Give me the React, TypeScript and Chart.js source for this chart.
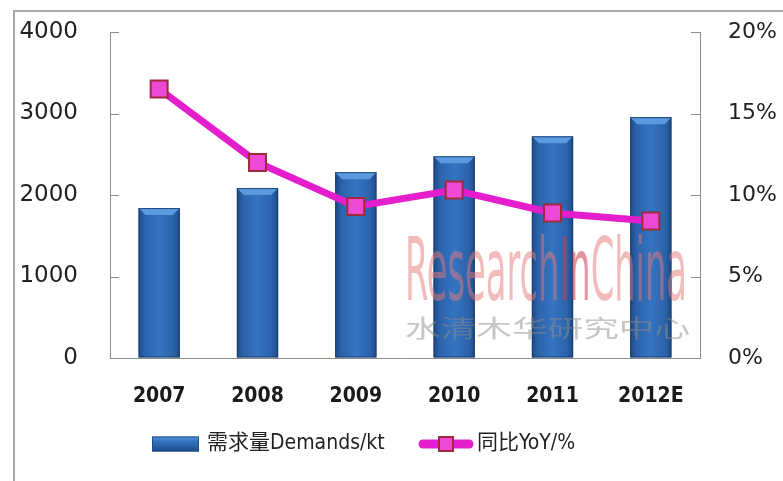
import React, { useEffect, useRef } from "react";
import { Chart, registerables } from "chart.js";

Chart.register(...registerables);

const categories = ["2007", "2008", "2009", "2010", "2011", "2012E"];
const demands = [1840, 2085, 2280, 2475, 2720, 2955];
const yoy = [16.5, 12.0, 9.3, 10.3, 8.9, 8.4];
const leftTicks = [0, 1000, 2000, 3000, 4000];
const rightTicks = [0, 5, 10, 15, 20];
const barLabel = "需求量Demands/kt";
const lineLabel = "同比YoY/%";
const watermark = ["Research", "In", "China"];
const watermarkCn = "水清木华研究中心";

const LINE_COLOR = "#E41ECC";
const NARROW = "'DejaVu Sans Condensed', 'Noto Sans CJK SC'";

const decorPlugin = {
  id: "decor",
  beforeDatasetsDraw(chart: any) {
    const ctx = chart.ctx;
    const yl = chart.scales.y;
    const yr = chart.scales.y1;
    ctx.save();
    ctx.strokeStyle = "#8c8c8c";
    ctx.lineWidth = 1;
    leftTicks.forEach((v) => {
      const py = Math.round(yl.getPixelForValue(v)) + 0.5;
      ctx.beginPath();
      ctx.moveTo(yl.right, py);
      ctx.lineTo(yl.right + 9, py);
      ctx.stroke();
    });
    rightTicks.forEach((v) => {
      const py = Math.round(yr.getPixelForValue(v)) + 0.5;
      ctx.beginPath();
      ctx.moveTo(yr.left, py);
      ctx.lineTo(yr.left - 9, py);
      ctx.stroke();
    });
    ctx.restore();
  },
  afterDatasetDraw(chart: any, args: any) {
    if (args.index !== 0) return;
    const ctx = chart.ctx;
    const meta = chart.getDatasetMeta(0);
    ctx.save();
    meta.data.forEach((bar: any) => {
      const w = bar.width;
      const x0 = bar.x - w / 2;
      const top = bar.y;
      const base = bar.base;
      const g = ctx.createLinearGradient(x0, 0, x0 + w, 0);
      g.addColorStop(0, "#1d4a85");
      g.addColorStop(0.15, "#2c62aa");
      g.addColorStop(0.5, "#3474c2");
      g.addColorStop(0.85, "#2c62aa");
      g.addColorStop(1, "#1d4a85");
      ctx.fillStyle = g;
      ctx.fillRect(x0, top, w, base - top);
      const bev = 7;
      ctx.beginPath();
      ctx.moveTo(x0, top);
      ctx.lineTo(x0 + w, top);
      ctx.lineTo(x0 + w - bev, top + bev);
      ctx.lineTo(x0 + bev, top + bev);
      ctx.closePath();
      ctx.fillStyle = "#5c9ae0";
      ctx.fill();
      ctx.strokeStyle = "rgba(20,55,100,0.8)";
      ctx.lineWidth = 1;
      ctx.strokeRect(x0 + 0.5, top + 0.5, w - 1, base - top - 1);
    });
    ctx.restore();
  },
  afterDatasetsDraw(chart: any) {
    const ctx = chart.ctx;
    ctx.save();
    const left = 405;
    const totalW = 282;
    ctx.font = "60px 'DejaVu Sans Condensed'";
    ctx.textBaseline = "alphabetic";
    const widths = watermark.map((s) => ctx.measureText(s).width);
    const sum = widths.reduce((a, b) => a + b, 0);
    const sx = totalW / sum;
    const g = ctx.createLinearGradient(0, 235, 0, 300);
    g.addColorStop(0, "rgba(228,120,120,0.5)");
    g.addColorStop(0.55, "rgba(228,120,120,0.5)");
    g.addColorStop(0.6, "rgba(150,150,150,0.45)");
    g.addColorStop(1, "rgba(150,150,150,0.45)");
    const g2 = "rgba(205,60,80,0.55)";
    let cx = left;
    watermark.forEach((s, i) => {
      ctx.save();
      ctx.translate(cx, 300);
      ctx.scale(sx, 1.45);
      ctx.fillStyle = i === 1 ? g2 : g;
      ctx.fillText(s, 0, 0);
      ctx.restore();
      cx += widths[i] * sx;
    });
    ctx.font = "24px 'Noto Sans CJK SC'";
    ctx.textBaseline = "middle";
    const cw = ctx.measureText(watermarkCn).width;
    ctx.save();
    ctx.translate(left, 328);
    ctx.scale(285 / cw, 1);
    ctx.fillStyle = "rgba(140,140,140,0.5)";
    ctx.fillText(watermarkCn, 0, 0);
    ctx.restore();
    ctx.restore();
  },
  afterDraw(chart: any) {
    const ctx = chart.ctx;
    ctx.save();
    const ly = 444;
    const sx0 = 152, sw = 47, sh = 15;
    const g = ctx.createLinearGradient(0, ly - sh / 2, 0, ly + sh / 2);
    g.addColorStop(0, "#5c9ae0");
    g.addColorStop(0.3, "#3474c2");
    g.addColorStop(1, "#1d4a85");
    ctx.fillStyle = g;
    ctx.fillRect(sx0, ly - sh / 2, sw, sh);
    ctx.strokeStyle = "#1d4a85";
    ctx.lineWidth = 1;
    ctx.strokeRect(sx0 + 0.5, ly - sh / 2 + 0.5, sw - 1, sh - 1);
    ctx.fillStyle = "#222";
    ctx.font = "21px " + NARROW;
    ctx.textBaseline = "middle";
    ctx.fillText(barLabel, 207, ly);
    ctx.strokeStyle = LINE_COLOR;
    ctx.lineWidth = 9;
    ctx.lineCap = "round";
    ctx.beginPath();
    ctx.moveTo(423, ly);
    ctx.lineTo(469, ly);
    ctx.stroke();
    ctx.fillStyle = "#ee48d6";
    ctx.fillRect(439, ly - 7, 14, 14);
    ctx.strokeStyle = "#a02a3c";
    ctx.lineWidth = 2;
    ctx.strokeRect(439, ly - 7, 14, 14);
    ctx.fillStyle = "#222";
    ctx.fillText(lineLabel, 477, ly);
    ctx.restore();
  },
};

export default function App() {
  const ref = useRef<HTMLCanvasElement | null>(null);
  useEffect(() => {
    document.body.style.margin = "0";
    const c = ref.current!;
    const chart = new Chart(c, {
      type: "bar",
      data: {
        labels: categories,
        datasets: [
          {
            type: "bar",
            label: barLabel,
            data: demands,
            yAxisID: "y",
            backgroundColor: "rgba(0,0,0,0)",
            borderWidth: 0,
            barPercentage: 0.42,
            categoryPercentage: 1,
            order: 2,
          },
          {
            type: "line",
            label: lineLabel,
            data: yoy,
            yAxisID: "y1",
            borderColor: LINE_COLOR,
            borderWidth: 7,
            pointStyle: "rect",
            pointRadius: 12,
            pointBackgroundColor: "#ee48d6",
            pointBorderColor: "#a02a3c",
            pointBorderWidth: 2,
            tension: 0,
            order: 1,
          } as any,
        ],
      },
      options: {
        animation: false,
        responsive: false,
        maintainAspectRatio: false,
        layout: { padding: { top: 32, left: 0, right: 0, bottom: 0 } },
        plugins: { legend: { display: false }, tooltip: { enabled: false } },
        scales: {
          x: {
            grid: { display: false, drawTicks: false },
            border: { display: true, color: "#8c8c8c" },
            ticks: {
              padding: 26,
              color: "#1a1a1a",
              font: { family: "'DejaVu Sans Condensed'", size: 21, weight: "bold" },
            },
            afterFit: (s: any) => {
              s.height = 123;
            },
          },
          y: {
            position: "left",
            min: 0,
            max: 4000,
            grid: {
              display: true,
              drawOnChartArea: false,
              drawTicks: true,
              tickLength: 32,
              color: "rgba(0,0,0,0)",
            },
            border: { display: true, color: "#8c8c8c" },
            ticks: {
              stepSize: 1000,
              padding: 0,
              color: "#222",
              font: { family: "'DejaVu Sans'", size: 23 },
              callback: (v: any) => String(v),
            },
            afterFit: (s: any) => {
              s.width = 110;
            },
          },
          y1: {
            position: "right",
            min: 0,
            max: 20,
            grid: {
              display: true,
              drawOnChartArea: false,
              drawTicks: true,
              tickLength: 28,
              color: "rgba(0,0,0,0)",
            },
            border: { display: true, color: "#8c8c8c" },
            ticks: {
              stepSize: 5,
              padding: 0,
              color: "#222",
              font: { family: "'DejaVu Sans'", size: 22 },
              callback: (v: any) => v + "%",
            },
            afterFit: (s: any) => {
              s.width = 83;
            },
          },
        },
      },
      plugins: [decorPlugin],
    });
    return () => chart.destroy();
  }, []);
  return (
    <div style={{ position: "relative", width: 783, height: 481, background: "#fff", overflow: "hidden" }}>
      <canvas ref={ref} width={783} height={481} style={{ display: "block" }} />
      <div
        style={{
          position: "absolute",
          left: 13,
          top: 10,
          width: 800,
          height: 480,
          borderTop: "2px solid #a8a8a8",
          borderLeft: "2px solid #a8a8a8",
          pointerEvents: "none",
        }}
      />
    </div>
  );
}
